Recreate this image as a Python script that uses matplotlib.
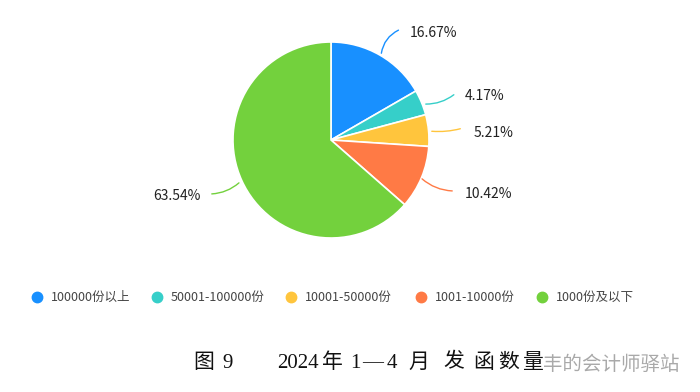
import matplotlib; matplotlib.use("Agg")
import matplotlib.pyplot as plt
from matplotlib.lines import Line2D

plt.rcParams['font.family'] = ['Noto Sans CJK SC', 'DejaVu Sans']

labels = ["100000份以上", "50001-100000份", "10001-50000份", "1001-10000份", "1000份及以下"]
values = [16.67, 4.17, 5.21, 10.42, 63.54]
colors = ["#1890ff", "#36cfc9", "#ffc53d", "#ff7a45", "#73d13d"]
# caption is set in spaced pieces like the original (token, left x in px)
caption = [("图", 193), ("9", 222), ("2024", 277), ("年", 322), ("1", 350), ("—", 362), ("4", 387),
           ("月", 408), ("发", 443), ("函", 473), ("数", 498), ("量", 522)]
watermark = "丰的会计师驿站"

W, H = 700, 392
fig = plt.figure(figsize=(W / 100, H / 100), dpi=100)

# pie area: centre (331,140), radius 98 px
cx, cy, R = 331, 140, 98
ax = fig.add_axes([(cx - R) / W, 1 - (cy + R) / H, 2 * R / W, 2 * R / H])
wedges, _ = ax.pie(values, colors=colors, startangle=90, counterclock=False, radius=1,
                   wedgeprops=dict(edgecolor="white", linewidth=1.2))
ax.set_xlim(-1, 1); ax.set_ylim(-1, 1); ax.set_aspect("equal"); ax.axis("off")

def d(px, py):
    return ((px - cx) / R, (cy - py) / R)

# leader lines: (start px, end px, text px, ha, curvature)
leaders = [((381, 56), (401, 29), (410, 33), "left", -0.3),
           ((423, 104), (456, 93), (465, 96), "left", 0.2),
           ((429, 131), (463, 128), (474, 133), "left", 0.1),
           ((420, 177), (455, 191), (465, 194), "left", 0.2),
           ((241, 181), (209, 194), (201, 196), "right", -0.2)]
for v, c, (s, e, t, ha, rad) in zip(values, colors, leaders):
    ax.annotate("", xy=d(*e), xytext=d(*s), annotation_clip=False,
                arrowprops=dict(arrowstyle="-", color=c, lw=1, connectionstyle=f"arc3,rad={rad}"))
    ax.text(*d(*t), f"{v:.2f}%", ha=ha, va="center", fontsize=10, color="#222222", clip_on=False)

# legend
leg_x = [37, 157, 291, 421, 542]
for x, lab, c in zip(leg_x, labels, colors):
    fig.add_artist(Line2D([x / W], [1 - 297 / H], marker="o", markersize=7.5, color=c,
                          markeredgecolor=c, linestyle="none", transform=fig.transFigure))
    fig.text((x + 14) / W, 1 - 297 / H, lab, ha="left", va="center", fontsize=9, color="#444444")

# caption + watermark
for tok, x in caption:
    fig.text(x / W, 1 - 363 / H, tok, ha="left", va="center", fontsize=15, color="#111111",
             family=["Liberation Serif", "Noto Sans CJK SC"])
fig.text(543 / W, 1 - 364 / H, watermark, ha="left", va="center", fontsize=14, color="#9a9a9a", alpha=0.85)

fig.savefig("out.png", dpi=100, facecolor="white")
